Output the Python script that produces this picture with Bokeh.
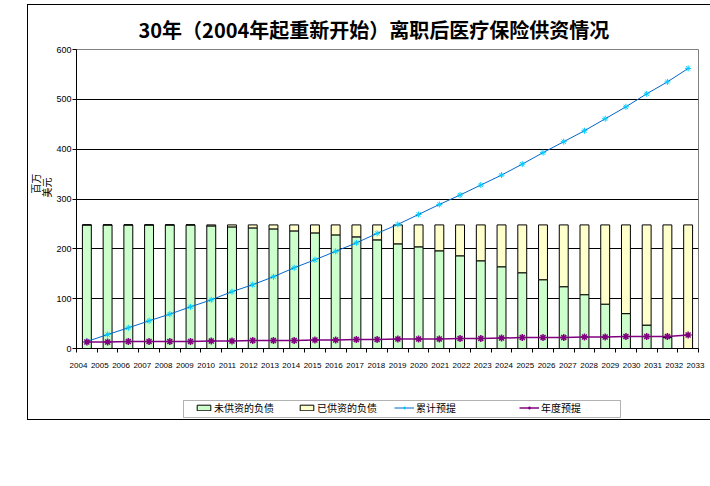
import math
from bokeh.plotting import figure
from bokeh.layouts import column, row
from bokeh.models import (ColumnDataSource, Range1d, LinearAxis, FixedTicker,
                          Legend, LegendItem, Label, BoxAnnotation)
from bokeh.embed import file_html
from bokeh.resources import INLINE

years = ["2004", "2005", "2006", "2007", "2008", "2009", "2010", "2011", "2012", "2013",
         "2014", "2015", "2016", "2017", "2018", "2019", "2020", "2021", "2022", "2023",
         "2024", "2025", "2026", "2027", "2028", "2029", "2030", "2031", "2032", "2033"]
unfunded = [248, 248, 248, 248, 248, 248, 246, 244, 242, 240, 236, 232, 228, 224, 218,
            210, 204, 196, 186, 176, 164, 152, 138, 124, 108, 89, 70, 47, 22, 0]
funded = [0, 0, 0, 0, 0, 0, 2, 4, 6, 8, 12, 16, 20, 24, 30,
          38, 44, 52, 62, 72, 84, 96, 110, 124, 140, 159, 178, 201, 226, 248]
cumulative = [14, 28, 41.5, 55.5, 69, 83.6, 97.7, 114, 128, 144, 162, 178, 195, 212, 231,
              249, 269, 289, 308, 328, 348, 370, 393, 415, 437, 461, 485, 511, 535, 562]
annual = [13, 13, 14, 14, 14, 14, 15, 15, 16, 16, 16, 17, 17, 18, 18,
          19, 19, 19, 20, 20, 21, 22, 22, 22, 23, 23, 24, 24, 24, 27]
y_ticks = [0, 100, 200, 300, 400, 500, 600]

title_text = "30年（2004年起重新开始）离职后医疗保险供资情况"
y_title_lines = ["百万", "美元"]
legend_labels = ["未供资的负债", "已供资的负债", "累计预提", "年度预提"]

GREEN, YELLOW = "#CCFFCC", "#FFFFCC"
BLUE, CYAN, PURPLE = "#0066CC", "#00CCFF", "#800080"

n = len(years)
xs = [i + 0.5 for i in range(n)]
src = ColumnDataSource(dict(x=xs, unfunded=unfunded, funded=funded,
                            cumulative=cumulative, annual=annual))


def strip(w, h, yr=(0, 1)):
    f = figure(width=w, height=h, output_backend="svg", toolbar_location=None, title=None,
               x_range=Range1d(0, 1), y_range=Range1d(*yr), x_axis_location=None,
               y_axis_location=None, min_border=0, outline_line_color=None,
               background_fill_color="white", border_fill_color="white")
    for g in f.grid:
        g.visible = False
    return f


# ---------------- main chart ----------------
p = figure(frame_width=622, frame_height=299, output_backend="svg", toolbar_location=None,
           title=title_text, x_range=Range1d(0, n), y_range=Range1d(0, 600),
           x_axis_location=None, min_border_left=19, min_border_right=12,
           min_border_top=44, min_border_bottom=30, background_fill_color="white",
           border_fill_color="white")
p.outline_line_color = "#808080"
p.outline_line_width = 1

p.title.align = "left"
p.title.offset = 62
p.title.standoff = 12
p.title.text_font = "Noto Sans CJK SC"
p.title.text_font_size = "20px"
p.title.text_font_style = "bold"
p.title.text_color = "black"

ya = p.yaxis[0]
ya.ticker = FixedTicker(ticks=y_ticks)
ya.major_tick_out = 4
ya.major_tick_in = 0
ya.minor_tick_out = 0
ya.minor_tick_in = 0
ya.axis_line_color = "black"
ya.major_tick_line_color = "black"
ya.major_label_text_font = "Liberation Sans"
ya.major_label_text_font_size = "9px"
ya.major_label_text_color = "black"
ya.major_label_standoff = 1

p.ygrid.ticker = FixedTicker(ticks=[100, 200, 300, 400, 500])
p.ygrid.grid_line_color = "black"
p.ygrid.grid_line_width = 1
for g in p.xgrid:
    g.visible = False

# x label axis (labels spread like the original)
ls, le = -0.094, 29.141
p.extra_x_ranges = {"lab": Range1d(ls, le)}
minor = [ls + j * (le - ls) / n for j in range(n + 1)]
xa = LinearAxis(x_range_name="lab",
                ticker=FixedTicker(ticks=list(range(n)), minor_ticks=minor),
                major_label_overrides={i: years[i] for i in range(n)})
xa.major_tick_out = 0
xa.major_tick_in = 0
xa.minor_tick_out = 4
xa.minor_tick_in = 0
xa.axis_line_color = "black"
xa.minor_tick_line_color = "black"
xa.major_label_text_font = "Liberation Sans"
xa.major_label_text_font_size = "8px"
xa.major_label_text_color = "black"
xa.major_label_standoff = 10
p.add_layout(xa, "below")

p.vbar_stack(["unfunded", "funded"], x="x", width=0.43, source=src,
             fill_color=[GREEN, YELLOW], line_color="black", line_width=1)
p.line("x", "cumulative", source=src, line_color=BLUE, line_width=1)
p.scatter("x", "cumulative", source=src, marker="asterisk", size=6,
          line_color=CYAN, line_width=1)
p.line("x", "annual", source=src, line_color=PURPLE, line_width=1.5)
p.scatter("x", "annual", source=src, marker="asterisk", size=7,
          line_color=PURPLE, line_width=1.5)

# ---------------- y-axis title strip ----------------
yl = strip(25, 373)
for xpos, ypos, txt in [(6.75, 165, y_title_lines[0]), (17.75, 161, y_title_lines[1])]:
    yl.add_layout(Label(x=xpos, y=ypos, x_units="screen", y_units="screen", text=txt,
                        angle=math.pi / 2, text_align="center", text_baseline="middle",
                        text_font="Noto Sans CJK SC", text_font_size="10px",
                        text_color="black"))

# ---------------- legend strip ----------------
q = strip(678, 41, (-2, -1))
r1 = q.vbar(x="x", top="unfunded", width=0.1, source=src, fill_color=GREEN,
            line_color="black", line_width=1, visible=False)
r2 = q.vbar(x="x", top="funded", width=0.1, source=src, fill_color=YELLOW,
            line_color="black", line_width=1, visible=False)
r3 = q.line(x="x", y="cumulative", source=src, line_color=BLUE, line_width=1,
            visible=False)
r4 = q.scatter(x="x", y="cumulative", source=src, marker="asterisk", size=6,
               line_color=CYAN, line_width=1, visible=False)
r5 = q.line(x="x", y="annual", source=src, line_color=PURPLE, line_width=1.5,
            visible=False)
r6 = q.scatter(x="x", y="annual", source=src, marker="asterisk", size=7,
               line_color=PURPLE, line_width=1.5, visible=False)

q.add_layout(BoxAnnotation(left=155, right=592, bottom=2, top=19, left_units="screen",
                           right_units="screen", bottom_units="screen", top_units="screen",
                           fill_alpha=0, line_color="black", line_width=1))

entries = [(legend_labels[0], [r1], 167, 17),
           (legend_labels[1], [r2], 270, 17),
           (legend_labels[2], [r3, r4], 366, 20),
           (legend_labels[3], [r5, r6], 491, 20)]
for lab, rends, lx, gw in entries:
    lg = Legend(items=[LegendItem(label=lab, renderers=rends)], location=(lx, 4))
    lg.border_line_color = None
    lg.background_fill_alpha = 0
    lg.inactive_fill_alpha = 0
    lg.label_text_font = "Noto Sans CJK SC"
    lg.label_text_font_size = "10px"
    lg.label_text_color = "black"
    lg.glyph_width = gw
    lg.glyph_height = 7
    lg.label_height = 10
    lg.label_standoff = 2
    lg.padding = 0
    lg.margin = 0
    q.add_layout(lg, "center")

lay = column(row(yl, p, spacing=0), q, spacing=0,
             styles={"border": "1px solid black", "margin-left": "27px", "margin-top": "4px"})

open("out.html", "w").write(file_html(lay, INLINE))
